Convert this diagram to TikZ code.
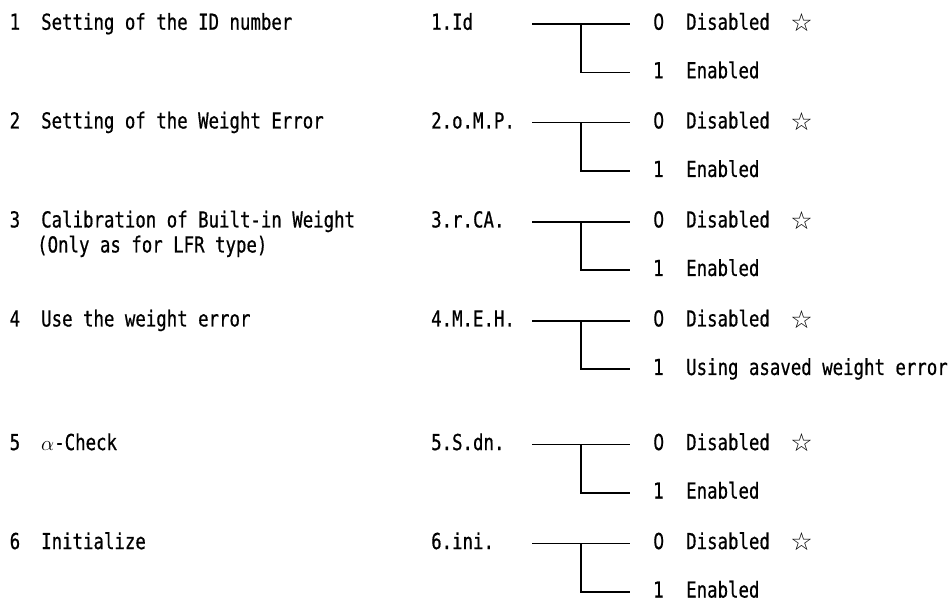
\documentclass[tikz,border=0pt]{standalone}
\usepackage{fontspec}
\usepackage{tikz}
\usetikzlibrary{positioning}

\newfontfamily\gothic{DejaVu Sans Mono}[FakeStretch=0.79, FakeBold=0.6]
\newfontfamily\plaingothic{DejaVu Sans}[FakeStretch=0.79, FakeBold=0.6]
\newfontfamily\symbolfont{DejaVu Sans}

\begin{document}
\begin{tikzpicture}[x=1pt, y=-1pt,
    txt/.style={anchor=west, inner sep=0pt, text height=11.5pt, text depth=0pt,
        font=\gothic\fontsize{22}{26}\selectfont},
    digit/.style={txt, inner xsep=23pt, font=\plaingothic\fontsize{22}{26}\selectfont},
    star/.style={inner sep=0pt, font=\symbolfont\fontsize{25}{28}\selectfont},
    branch/.style={line width=1.6pt}]

% Canvas
\useasboundingbox (0,0) rectangle (951,599);

% Parameter rows
\foreach \n/\y/\lab/\code/\one in {
    1/24/{Setting of the ID number}/{1.Id}/{Enabled},
    2/122.7/{Setting of the Weight Error}/{2.o.M.P.}/{Enabled},
    3/221.7/{Calibration of Built-in Weight}/{3.r.CA.}/{Enabled},
    4/320.7/{Use the weight error}/{4.M.E.H.}/{Using asaved weight error},
    5/444.3/{$\alpha$-Check}/{5.S.dn.}/{Enabled},
    6/543.3/{Initialize}/{6.ini.}/{Enabled}} {
    \node[txt] (num\n) at (9.5,\y) {\n};
    \node[txt] (lab\n) at (41,\y) {\lab};
    \node[txt] (code\n) at (431,\y) {\code};
    % options
    \node[digit] (zero\n) at (630,\y) {0};
    \node[txt] (off\n) at (686,\y) {Disabled};
    \node[star] (mark\n) at (801.5,\y-1.5) {☆};
    \node[digit] (one\n) at (630,\y+48.5) {1};
    \node[txt] (on\n) at (686,\y+48.5) {\one};
    % connectors
    \coordinate (in\n) at (532,\y);
    \coordinate (fork\n) at (581,\y);
    \draw[branch] (in\n) -- (zero\n.west);
    \draw[branch] (fork\n) |- (one\n.west);
}

% Second line of row 3
\node[txt] (sub3) at (37,246.7) {(Only as for LFR type)};

\end{tikzpicture}
\end{document}
